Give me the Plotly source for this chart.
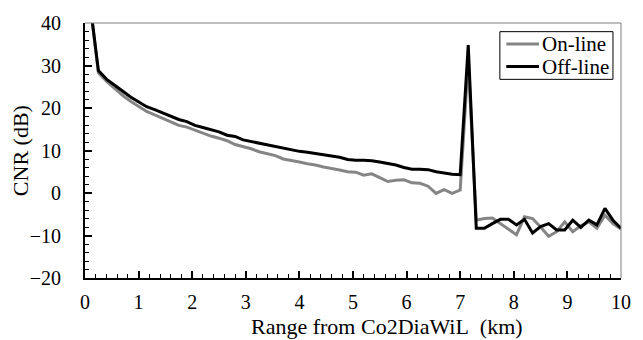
import plotly.graph_objects as go

# Range bins (km)
range_km = [round(0.1 + 0.15 * i, 2) for i in range(67)]

on_line = [44, 28.3, 26.3, 24.6, 23.0, 21.6, 20.4, 19.2, 18.4, 17.6,
           16.8, 15.9, 15.5, 14.8, 14.2, 13.4, 12.9, 12.3, 11.4, 10.9,
           10.4, 9.7, 9.3, 8.8, 8.0, 7.7, 7.3, 6.9, 6.6, 6.1,
           5.8, 5.4, 5.0, 4.9, 4.2, 4.5, 3.6, 2.7, 3.0, 3.1,
           2.4, 2.3, 1.6, -0.1, 0.8, -0.1, 0.7, 31.0, -6.4, -6.0,
           -5.9, -7.2, -8.3, -9.8, -5.6, -6.0, -8.0, -10.2, -9.1, -6.8,
           -9.1, -7.7, -6.8, -8.3, -5.2, -7.2, -8.5]

off_line = [44, 28.8, 26.8, 25.3, 24.0, 22.6, 21.4, 20.3, 19.6, 18.8,
            18.1, 17.3, 16.8, 15.9, 15.4, 14.9, 14.4, 13.6, 13.3, 12.5,
            12.1, 11.7, 11.3, 11.0, 10.5, 10.1, 9.8, 9.6, 9.3, 8.9,
            8.6, 8.4, 7.9, 7.7, 7.7, 7.6, 7.3, 6.9, 6.6, 6.0,
            5.6, 5.6, 5.5, 5.0, 4.7, 4.4, 4.3, 34.8, -8.3, -8.3,
            -7.2, -6.2, -6.2, -7.5, -6.2, -9.4, -7.9, -7.2, -8.7, -8.7,
            -6.4, -8.1, -6.4, -7.5, -3.6, -6.4, -8.3]

series_names = ["On-line", "Off-line"]
series_colors = ["#858585", "#000000"]

x_title = "Range from Co2DiaWiL\u00a0\u00a0(km)"
y_title = "CNR (dB)"

FONT = "Liberation Serif, serif"
F_TICK = dict(family=FONT, size=20, color="black")
F_LEG = dict(family=FONT, size=21, color="black")
F_TITLE = dict(family=FONT, size=22, color="black")

fig = go.Figure()
for name, ys, col in zip(series_names, [on_line, off_line], series_colors):
    fig.add_trace(go.Scatter(x=range_km, y=ys, mode="lines", name=name,
                             line=dict(color=col, width=3), showlegend=False))

fig.update_layout(
    width=643, height=340,
    margin=dict(l=85, r=22, t=15, b=62),
    paper_bgcolor="white", plot_bgcolor="white",
    font=F_TICK,
)
fig.update_xaxes(range=[0, 10], dtick=1, tick0=0, showgrid=False, zeroline=False,
                 showline=True, linecolor="black", linewidth=2,
                 ticks="inside", ticklen=7, tickwidth=1.5, tickcolor="black",
                 minor=dict(dtick=0.2, ticks="inside", ticklen=4, tickcolor="black", tickwidth=1),
                 tickfont=F_TICK, ticklabelstandoff=5)
fig.update_yaxes(range=[-20, 40], dtick=10, tick0=0, showgrid=False, zeroline=False,
                 showline=True, linecolor="black", linewidth=2,
                 ticks="inside", ticklen=7, tickwidth=1.5, tickcolor="black",
                 minor=dict(dtick=2, ticks="inside", ticklen=4, tickcolor="black", tickwidth=1),
                 tickfont=F_TICK, ticklabelstandoff=18)

# thin gray frame on top and right
fig.add_shape(type="line", xref="paper", yref="paper", x0=0, x1=1, y0=1, y1=1,
              line=dict(color="#808080", width=1))
fig.add_shape(type="line", xref="paper", yref="paper", x0=1, x1=1, y0=0, y1=1,
              line=dict(color="#808080", width=1))

# axis titles
fig.add_annotation(text=x_title, xref="paper", yref="paper", x=0.563, y=-0.19,
                   xanchor="center", yanchor="middle", showarrow=False, font=F_TITLE)
fig.add_annotation(text=y_title, xref="paper", yref="paper", x=-0.121, y=0.498,
                   xanchor="center", yanchor="middle", textangle=-90,
                   showarrow=False, font=F_TITLE)

# legend box
fig.add_shape(type="rect", xref="paper", yref="paper", x0=0.774, x1=0.985,
              y0=0.779, y1=0.966, line=dict(color="black", width=1), fillcolor="white",
              layer="above")
leg_y = [0.9175, 0.829]
for name, col, ly in zip(series_names, series_colors, leg_y):
    fig.add_shape(type="line", xref="paper", yref="paper", x0=0.786, x1=0.847,
                  y0=ly, y1=ly, line=dict(color=col, width=3), layer="above")
    fig.add_annotation(text=name, xref="paper", yref="paper", x=0.849, y=ly,
                       xanchor="left", yanchor="middle", showarrow=False, font=F_LEG)

fig.write_html("out.html")
